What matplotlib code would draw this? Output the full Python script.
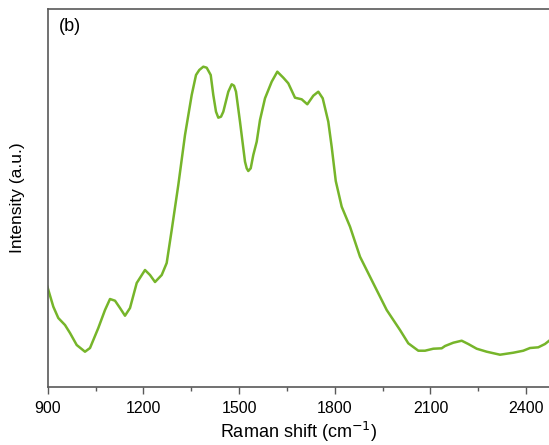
import numpy as np
import matplotlib.pyplot as plt

plt.rcParams['font.family'] = ['Liberation Sans', 'DejaVu Sans']

# Raman spectrum (shift in cm^-1, intensity in arbitrary units)
shift = [899, 917.6, 933.2, 954.2, 969.9, 990.9, 1016.9, 1032.6, 1058.6, 1079.6,
         1095.3, 1111.0, 1126.6, 1142.3, 1158.0, 1179.0, 1205.0, 1220.7, 1236.4, 1257.4,
         1273.0, 1288.7, 1309.4, 1330.4, 1351.4, 1364.9, 1375.2, 1387.8, 1398.4, 1411.0,
         1419.1, 1427.6, 1434.8, 1443.3, 1450.5, 1466.2, 1476.8, 1484.0, 1490.3, 1502.8,
         1518.5, 1523.8, 1528.8, 1536.4, 1544.5, 1555.2, 1565.5, 1581.2, 1602.2, 1619.8,
         1638.6, 1654.2, 1675.2, 1696.2, 1713.8, 1732.6, 1748.3, 1762.1, 1779.6, 1790.3,
         1803.0, 1821.6, 1847.7, 1879.0, 1920.7, 1962.7, 2004.4, 2030.4, 2061.8, 2082.8,
         2108.8, 2135.1, 2145.5, 2171.5, 2197.8, 2218.5, 2244.8, 2276.2, 2317.9, 2359.6,
         2390.9, 2411.9, 2437.9, 2458.9, 2472]
intensity = [100.3, 80.3, 69, 62, 54, 42, 35.3, 39, 59, 77,
             88, 86.3, 79, 71.3, 79, 104, 117, 112, 105, 112,
             124, 157, 202, 252, 292, 312, 317, 320.3, 319.3, 312,
             292, 275.3, 269.3, 270.3, 275.3, 295.3, 302.7, 301.3, 295.3, 265.3,
             225.3, 218.7, 216, 218.7, 232, 245.3, 267, 288.7, 305.3, 315.3,
             309.3, 303.7, 289.3, 287.7, 282.7, 291.3, 295.3, 288.7, 265.3, 240,
             206, 180.3, 160.3, 130.3, 103.7, 77, 57, 43.7, 36.3, 36.3,
             38.3, 38.7, 41, 44.3, 46.3, 43, 38.3, 35.3, 32.3, 34.3,
             36.3, 39, 39.7, 43, 46.3]

xticks = [900, 1200, 1500, 1800, 2100, 2400]

fig = plt.figure(figsize=(5.49, 4.45), dpi=100)
ax = fig.add_axes([0.0869, 0.1303, 0.9131, 0.8495])

ax.plot(shift, intensity, color='#76b52a', lw=1.8, solid_joinstyle='round')

ax.set_xlim(900, 2471.5)
ax.set_ylim(0, 378)
ax.set_xticks(xticks)
ax.set_xticks(np.arange(1050, 2500, 300), minor=True)
ax.set_yticks([])
ax.tick_params(axis='x', which='major', direction='out', length=5, width=1,
               color='#595959', labelsize=11.5, pad=5)
ax.tick_params(axis='x', which='minor', direction='out', length=3, width=1,
               color='#595959')

for side in ['left', 'bottom', 'top']:
    ax.spines[side].set_color('#595959')
    ax.spines[side].set_linewidth(1.2)
ax.spines['right'].set_visible(False)

ax.set_xlabel('Raman shift (cm$^{-1}$)', fontsize=13, labelpad=3)
ax.set_ylabel('Intensity (a.u.)', fontsize=12.5, labelpad=16)
ax.text(0.022, 0.975, '(b)', transform=ax.transAxes, fontsize=13,
        va='top', ha='left')

fig.savefig('out.png', dpi=100)
